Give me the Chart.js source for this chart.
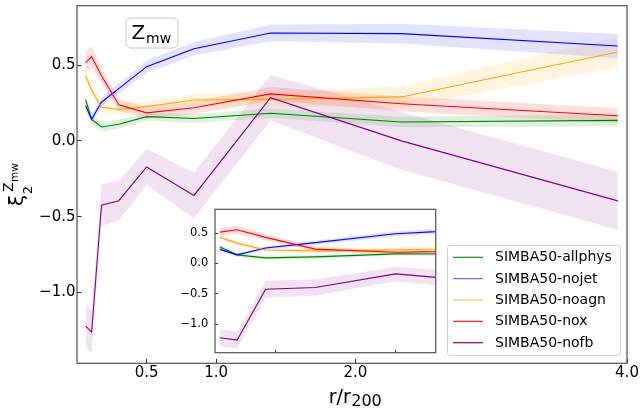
<!DOCTYPE html>
<html><head><meta charset="utf-8">
<script src="https://cdn.jsdelivr.net/npm/chart.js@4.4.1/dist/chart.umd.min.js"></script>
<style>
html,body{margin:0;padding:0;background:#fff;}
#wrap{position:relative;width:644px;height:410px;}
#main{position:absolute;left:0;top:0;width:644px;height:410px;}
#inset{position:absolute;left:165px;top:200px;width:280px;height:165px;}
</style></head><body>
<div id="wrap">
<canvas id="main" width="644" height="410"></canvas>
<canvas id="inset" width="280" height="165"></canvas>
</div>
<script>
// ---- data ----
const radii = [0.062, 0.105, 0.176, 0.30, 0.50, 0.84, 1.39, 2.33, 3.884];
const allphys = [0.272, 0.142, 0.092, 0.110, 0.160, 0.148, 0.182, 0.124, 0.135];
const nojet   = [0.232, 0.142, 0.255, 0.345, 0.490, 0.608, 0.712, 0.708, 0.626];
const noagn   = [0.430, 0.335, 0.222, 0.207, 0.226, 0.270, 0.274, 0.290, 0.586];
const nox     = [0.517, 0.555, 0.430, 0.238, 0.185, 0.218, 0.310, 0.245, 0.166];
const nofb    = [-1.222, -1.262, -0.424, -0.395, -0.172, -0.360, 0.285, 0.000, -0.396];
const allphysErr = [0.035, 0.03, 0.03, 0.03, 0.027, 0.03, 0.03, 0.035, 0.04];
const nojetErr   = [0.025, 0.025, 0.03, 0.035, 0.04, 0.045, 0.055, 0.065, 0.08];
const noagnErr   = [0.035, 0.035, 0.035, 0.035, 0.035, 0.04, 0.045, 0.07, 0.10];
const noxErr     = [0.07, 0.07, 0.05, 0.04, 0.035, 0.04, 0.045, 0.05, 0.05];
const nofbErr    = [0.14, 0.14, 0.14, 0.13, 0.12, 0.15, 0.15, 0.19, 0.19];
const seriesNames = ['SIMBA50-allphys','SIMBA50-nojet','SIMBA50-noagn','SIMBA50-nox','SIMBA50-nofb'];
const mainXTickValues = [0.5, 1.0, 2.0, 3.95];
const mainXTickLabels = ['0.5','1.0','2.0','4.0'];
const yTickValues = [-1.0, -0.5, 0.0, 0.5];
const yTickLabels = ['\u22121.0','\u22120.5','0.0','0.5'];
const insetXTickValues = [0.2, 0.5];
const insetXTickLabels = ['0.2','0.5'];

// ---- styles ----
const seriesValues = [allphys, nojet, noagn, nox, nofb];
const seriesErrors = [allphysErr, nojetErr, noagnErr, noxErr, nofbErr];
const seriesColors = ['#008000','#0000ff','#ffa500','#ff0000','#800080'];
const legendColors = ['#1a8a1a','rgba(0,0,255,0.6)','rgba(255,165,0,0.7)','#ff2020','#800080'];
const bandColors = ['rgba(0,128,0,0.12)','rgba(0,0,255,0.11)','rgba(255,165,0,0.12)','rgba(255,0,0,0.13)','rgba(128,0,128,0.11)'];
const FONT = '"DejaVu Sans", sans-serif';

function buildDatasets(lw){
  const ds = [];
  seriesValues.forEach((vals,i)=>{
    const err = seriesErrors[i];
    ds.push({label:'_u'+i, data: radii.map((r,k)=>({x:r, y:vals[k]+err[k]})), borderWidth:0, borderColor:'rgba(0,0,0,0)', pointRadius:0, fill:false, order:10});
    ds.push({label:'_l'+i, data: radii.map((r,k)=>({x:r, y:vals[k]-err[k]})), borderWidth:0, borderColor:'rgba(0,0,0,0)', pointRadius:0, fill:'-1', backgroundColor:bandColors[i], order:10});
  });
  seriesValues.forEach((vals,i)=>{
    ds.push({label:seriesNames[i], data: radii.map((r,k)=>({x:r, y:vals[k]})), borderColor:seriesColors[i], borderWidth:lw, pointRadius:0, fill:false, tension:0, order:5-i});
  });
  return ds;
}

function labelFrom(values, labels){
  return function(v){ const i = values.findIndex(t=>Math.abs(t-v)<1e-6); return i>=0 ? labels[i] : ''; };
}

const framePlugin = {
  id:'frame',
  afterDatasetsDraw(chart){
    const {ctx, chartArea:a} = chart;
    ctx.save();
    ctx.strokeStyle = '#505050'; ctx.lineWidth = 1.2;
    ctx.strokeRect(a.left, a.top, a.right-a.left, a.bottom-a.top);
    ctx.restore();
  }
};
const whiteBg = {
  id:'whiteBg',
  beforeDraw(chart){
    const {ctx, chartArea:a} = chart;
    ctx.save(); ctx.fillStyle = '#fff';
    ctx.fillRect(a.left, a.top, a.right-a.left, a.bottom-a.top);
    ctx.restore();
  }
};

function roundRect(ctx,x,y,w,h,r){
  ctx.beginPath();
  ctx.moveTo(x+r,y); ctx.lineTo(x+w-r,y); ctx.arcTo(x+w,y,x+w,y+r,r);
  ctx.lineTo(x+w,y+h-r); ctx.arcTo(x+w,y+h,x+w-r,y+h,r);
  ctx.lineTo(x+r,y+h); ctx.arcTo(x,y+h,x,y+h-r,r);
  ctx.lineTo(x,y+r); ctx.arcTo(x,y,x+r,y,r); ctx.closePath();
}

const decorPlugin = {
  id:'decor',
  afterDraw(chart){
    const ctx = chart.ctx;
    ctx.save();
    ctx.fillStyle = '#000';
    // y title: xi_2^{Z_mw}
    ctx.save();
    ctx.translate(23, 206);
    ctx.rotate(-Math.PI/2);
    ctx.textBaseline = 'alphabetic';
    ctx.font = '20px ' + FONT;
    ctx.fillText('\u03be', 0, 0);
    const w = ctx.measureText('\u03be').width;
    ctx.font = '13px ' + FONT;
    ctx.fillText('2', w+0.5, 9);
    ctx.font = '13.5px ' + FONT;
    ctx.fillText('Z', w+3, -10);
    const wz = ctx.measureText('Z').width;
    ctx.font = '10.5px ' + FONT;
    ctx.fillText('mw', w+3+wz+0.5, -5);
    ctx.restore();
    // x title r/r_200
    ctx.textBaseline = 'alphabetic';
    ctx.font = '19px ' + FONT;
    const w1 = ctx.measureText('r/r').width;
    ctx.font = '16px ' + FONT;
    const w2 = ctx.measureText('200').width;
    const cx = (chart.chartArea.left + chart.chartArea.right)/2 + 3;
    const sx = cx - (w1+w2)/2;
    ctx.font = '19px ' + FONT;
    ctx.fillText('r/r', sx, 402.7);
    ctx.font = '16px ' + FONT;
    ctx.fillText('200', sx + w1 + 0.5, 405.5);
    // Z_mw box
    roundRect(ctx, 126, 18, 52, 30, 5);
    ctx.fillStyle = 'rgba(255,255,255,0.85)'; ctx.fill();
    ctx.strokeStyle = '#c8c8c8'; ctx.lineWidth = 1; ctx.stroke();
    ctx.fillStyle = '#000';
    ctx.font = '20px ' + FONT;
    ctx.fillText('Z', 131.5, 39.3);
    ctx.font = '14px ' + FONT;
    ctx.fillText('mw', 146, 42.5);
    // legend
    roundRect(ctx, 447.5, 245.5, 173, 110, 3);
    ctx.fillStyle = 'rgba(255,255,255,0.85)'; ctx.fill();
    ctx.strokeStyle = '#d0d0d0'; ctx.lineWidth = 1; ctx.stroke();
    ctx.font = '14px ' + FONT;
    ctx.textBaseline = 'middle';
    seriesNames.forEach((n,i)=>{
      const yy = 257.3 + i*21.35;
      ctx.strokeStyle = legendColors[i]; ctx.lineWidth = 1.2;
      ctx.beginPath(); ctx.moveTo(453, yy); ctx.lineTo(483, yy); ctx.stroke();
      ctx.fillStyle = '#000';
      ctx.fillText(n, 495, yy+0.5);
    });
    ctx.restore();
  }
};

new Chart(document.getElementById('main'), {
  type:'line',
  data:{datasets: buildDatasets(1.1)},
  options:{
    responsive:false, animation:false, events:[],
    layout:{padding:{left:0, right:17, top:5.7, bottom:0}},
    plugins:{legend:{display:false}, tooltip:{enabled:false}},
    scales:{
      x:{type:'linear', min:0, max:3.95,
        afterBuildTicks: s=>{ s.ticks = mainXTickValues.map(v=>({value:v})); },
        afterFit: s=>{ s.height = 46.7; s.paddingLeft = 0; s.paddingRight = 0; },
        ticks:{callback: labelFrom(mainXTickValues, mainXTickLabels), font:{family:FONT, size:15}, color:'#000', padding:5, maxRotation:0, autoSkip:false},
        grid:{drawOnChartArea:false, tickLength:-4.5, tickColor:'#333', tickWidth:1},
        border:{display:false}},
      y:{type:'linear', min:-1.468, max:0.892,
        afterBuildTicks: s=>{ s.ticks = yTickValues.map(v=>({value:v})); },
        afterFit: s=>{ s.width = 77; s.paddingTop = 0; s.paddingBottom = 0; },
        ticks:{callback: labelFrom(yTickValues, yTickLabels), font:{family:FONT, size:15}, color:'#000', padding:6, autoSkip:false},
        grid:{drawOnChartArea:false, tickLength:-4.5, tickColor:'#333', tickWidth:1},
        border:{display:false}}
    }
  },
  plugins:[framePlugin, decorPlugin]
});

new Chart(document.getElementById('inset'), {
  type:'line',
  data:{datasets: buildDatasets(1.2)},
  options:{
    responsive:false, animation:false, events:[],
    layout:{padding:{left:0, right:9.3, top:9.3, bottom:12.3}},
    plugins:{legend:{display:false}, tooltip:{enabled:false}},
    scales:{
      x:{type:'linear', min:0.05, max:0.6,
        afterBuildTicks: s=>{ s.ticks = insetXTickValues.map(v=>({value:v})); },
        afterFit: s=>{ s.height = 0; s.paddingLeft = 0; s.paddingRight = 0; },
        ticks:{callback: labelFrom(insetXTickValues, insetXTickLabels), font:{family:FONT, size:11.5}, color:'#000', padding:-14.9, maxRotation:0, autoSkip:false},
        grid:{drawOnChartArea:false, tickLength:-3, tickColor:'#333', tickWidth:1},
        border:{display:false}},
      y:{type:'linear', min:-1.468, max:0.892,
        afterBuildTicks: s=>{ s.ticks = yTickValues.map(v=>({value:v})); },
        afterFit: s=>{ s.width = 50; s.paddingTop = 0; s.paddingBottom = 0; },
        ticks:{callback: labelFrom(yTickValues, yTickLabels), font:{family:FONT, size:11.5}, color:'#000', padding:9.7, autoSkip:false},
        grid:{drawOnChartArea:false, tickLength:-3, tickColor:'#333', tickWidth:1},
        border:{display:false}}
    }
  },
  plugins:[whiteBg, framePlugin]
});
</script>
</body></html>
